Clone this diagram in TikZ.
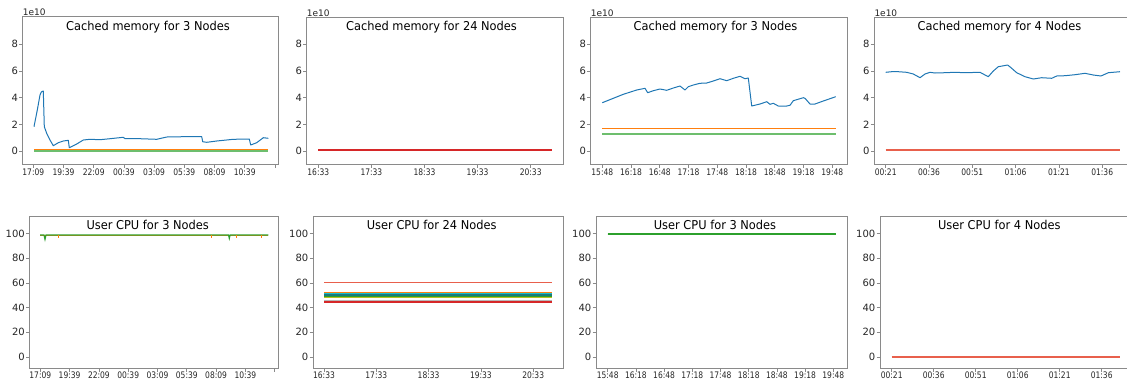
\documentclass[tikz,border=0pt]{standalone}
\usepackage{fontspec}
\setmainfont{DejaVu Sans}
\definecolor{tbl}{HTML}{1F77B4}
\definecolor{tor}{HTML}{FF7F0E}
\definecolor{tgr}{HTML}{2CA02C}
\definecolor{lgr}{HTML}{6DBE6D}
\definecolor{trd}{HTML}{D62728}
\definecolor{slm}{HTML}{E8604C}
\definecolor{tcy}{HTML}{17BECF}
\definecolor{tol}{HTML}{BCBD22}
\definecolor{tgy}{HTML}{B8B8B8}
\definecolor{dtl}{HTML}{1B7A7A}
\definecolor{frm}{HTML}{8A8A8A}
\definecolor{txt}{HTML}{262626}
\newcommand\ttlfnt{\fontsize{12.2}{14}\selectfont}
\newcommand\ytfnt{\fontsize{10}{11}\selectfont}
\newcommand\xtfnt{\fontsize{9}{10}\selectfont}
\tikzset{
  frame/.style={draw=frm, line width=0.9pt},
  tickmark/.style={draw=frm, line width=0.7pt},
  ylab/.style={anchor=east, inner sep=0pt, font=\ytfnt, text=txt},
  xlab/.style={anchor=base, inner sep=0pt, font=\xtfnt, text=txt},
  ttl/.style={anchor=base, inner sep=0pt, font=\ttlfnt, text=black},
  expo/.style={anchor=south west, inner sep=0pt, font=\xtfnt, text=txt},
  dataline/.style={line width=1pt, line join=round},
}
\newcommand\memy[2]{%
  \foreach \v in {0,2,4,6,8}{
    \draw[tickmark] ({#1-3.5},{151-\v*13.333}) -- ({#1},{151-\v*13.333});
    \node[ylab] (#2y\v) at ({#1-4.5},{151-\v*13.333}) {\v};
  }}
\newcommand\cpuy[2]{%
  \foreach \v in {0,20,40,60,80,100}{
    \draw[tickmark] ({#1-3.5},{357-\v*1.235}) -- ({#1},{357-\v*1.235});
    \node[ylab] (#2y\v) at ({#1-4.5},{357-\v*1.235}) {\v};
  }}
\newcommand\xaxis[6]{%
  \foreach \lab [count=\i from 0] in {#5}{
    \draw[tickmark] ({#1+\i*#2},#3) -- ({#1+\i*#2},{#3+3.5});
    \node[xlab] (#6x\i) at ({#1+\i*#2},#4) {\scalebox{0.84}[1]{\lab}};
  }}
\newcommand\ttltext[1]{\scalebox{0.935}[1]{#1}}
\begin{document}
\begin{tikzpicture}[x=1pt,y=-1pt]
\useasboundingbox (0,0) rectangle (1127,384);
\clip (0,0) rectangle (1127,384);

% ---------- Panel 1 ----------
\draw[tbl, dataline] (34,126.7) -- (37.3,110) -- (40,95) -- (41.3,92) -- (43.3,91) -- (44.3,126.7) -- (46.7,133.3) -- (50,140) -- (53.3,145.7) -- (58.3,142.7) -- (63.3,141) -- (68.3,140.3) -- (69.3,147.7) -- (76.7,144) -- (83.3,140) -- (90,139.3) -- (100,139.7) -- (110,138.7) -- (123.3,137.3) -- (125,138.7) -- (140,138.7) -- (156.7,139.3) -- (166.7,137) -- (183.3,136.7) -- (201.7,136.7) -- (202.7,141.7) -- (206.7,142.3) -- (216.7,141) -- (233.3,139.3) -- (249.3,139) -- (250.7,145) -- (256.7,142.7) -- (263.3,137.7) -- (268.3,138.3);
\draw[tor, line width=1pt] (34,149.3) -- (268.3,149.3);
\draw[lgr, line width=1.6pt] (34,150.9) -- (268.3,150.9);
\draw[frame] (22.7,16) rectangle (278.5,164);
\memy{22.7}{pa}
\xaxis{33.3}{30.2}{164}{175.7}{17:09,19:39,22:09,00:39,03:09,05:39,08:09,10:39}{pa}
\draw[tickmark] (274.9,164) -- (274.9,167.5);
\node[expo] (pae) at (22.7,15.5) {1e10};
\node[ttl] (pat) at (148,30.7) {\ttltext{Cached memory for 3 Nodes}};

% ---------- Panel 2 ----------
\draw[trd, line width=1.5pt] (318.3,150) -- (551.7,150);
\draw[frame] (306.7,17.3) rectangle (563.3,164);
\memy{306.7}{pb}
\xaxis{318.3}{53.1}{164}{175.7}{16:33,17:33,18:33,19:33,20:33}{pb}
\node[expo] (pbe) at (306.7,16.8) {1e10};
\node[ttl] (pbt) at (431.5,30.7) {\ttltext{Cached memory for 24 Nodes}};

% ---------- Panel 3 ----------
\draw[tbl, dataline] (602.3,102.7) -- (613.3,98.3) -- (623.3,94.3) -- (636.7,90) -- (645,88.3) -- (647.7,92.7) -- (653.3,90.7) -- (660,89) -- (666.7,90.3) -- (673.3,88) -- (680,86) -- (685,90) -- (688.3,86.7) -- (693.3,85) -- (700,83.3) -- (706.7,83) -- (713.3,81) -- (720,78.7) -- (726.7,80.7) -- (733.3,78.3) -- (740,76.3) -- (745,78.7) -- (748.3,78) -- (751.7,106) -- (760,104) -- (766.7,101.7) -- (770,104.3) -- (773.3,103.3) -- (778.3,106) -- (786.7,106) -- (790,105.3) -- (793.3,100.7) -- (803.3,97.7) -- (805,98.3) -- (810,104) -- (815,104) -- (823.3,101) -- (835.7,96.7);
\draw[tor, line width=1pt] (602.3,128) -- (835.7,128);
\draw[lgr, line width=1.8pt] (602.3,133.7) -- (835.7,133.7);
\draw[frame] (590.7,17.3) rectangle (847.3,164);
\memy{590.7}{pc}
\xaxis{602.3}{28.75}{164}{175.7}{15:48,16:18,16:48,17:18,17:48,18:18,18:48,19:18,19:48}{pc}
\node[expo] (pce) at (590.7,16.8) {1e10};
\node[ttl] (pct) at (715.5,30.7) {\ttltext{Cached memory for 3 Nodes}};

% ---------- Panel 4 ----------
\draw[tbl, dataline] (885.7,72.3) -- (891.7,71.7) -- (898.3,71.7) -- (906.7,72.3) -- (913.3,74) -- (920,77.7) -- (925,74) -- (930,72.3) -- (935,73) -- (945,72.7) -- (955,72.3) -- (965,72.7) -- (980,72.3) -- (988.3,76.7) -- (993.3,71) -- (998.3,66.7) -- (1007.7,65) -- (1011.7,68.3) -- (1016.7,72.7) -- (1025,76.7) -- (1033.3,79) -- (1041.7,77.7) -- (1051.7,78.3) -- (1056.7,76) -- (1065,75.7) -- (1075,74.7) -- (1085,73.3) -- (1093.3,75) -- (1101,76) -- (1108.3,72.7) -- (1120,71.7);
\draw[slm, line width=1.5pt] (885.7,150) -- (1120,150);
\draw[frame] (874.3,17.3) rectangle (1140,164);
\memy{874.3}{pd}
\xaxis{885.7}{43.3}{164}{175.7}{00:21,00:36,00:51,01:06,01:21,01:36}{pd}
\node[expo] (pde) at (874.3,16.8) {1e10};
\node[ttl] (pdt) at (999.5,30.7) {\ttltext{Cached memory for 4 Nodes}};

% ---------- Panel 5 ----------
\draw[tor, line width=1pt] (40,235.4) -- (268.3,235.4);
\draw[tgr, line width=1.1pt] (40,235) -- (44,235) -- (45,239.5) -- (46,235) -- (228.5,235) -- (229.3,238.5) -- (230.1,235) -- (268.3,235);
\foreach \sx [count=\k] in {58.3,211,236.7,261.7}
  \draw[tor, line width=0.9pt] (\sx,235) -- (\sx,237.8);
\draw[frame] (29.5,216.5) rectangle (278.5,368);
\cpuy{29.5}{pe}
\xaxis{40.3}{29.3}{368}{378.5}{17:09,19:39,22:09,00:39,03:09,05:39,08:09,10:39}{pe}
\draw[tickmark] (274.7,368) -- (274.7,371.5);
\node[ttl] (pet) at (147.7,229.3) {\ttltext{User CPU for 3 Nodes}};

% ---------- Panel 6 ----------
\draw[slm, line width=0.9pt] (324,282.3) -- (551.7,282.3);
\draw[tor, line width=1pt] (324,292.6) -- (551.7,292.6);
\draw[tcy, line width=1.6pt] (324,293.6) -- (551.7,293.6);
\draw[dtl, line width=1.8pt] (324,295.1) -- (551.7,295.1);
\draw[tgr, line width=1pt] (324,296.3) -- (551.7,296.3);
\draw[tol, line width=0.9pt] (324,297.6) -- (551.7,297.6);
\draw[tgy, line width=0.8pt] (324,300.2) -- (551.7,300.2);
\draw[trd, line width=1.6pt] (324,301.8) -- (551.7,301.8);
\draw[frame] (313,216) rectangle (563.3,368);
\cpuy{313}{pf}
\xaxis{324}{52.3}{368}{378.5}{16:33,17:33,18:33,19:33,20:33}{pf}
\node[ttl] (pft) at (431.7,229.3) {\ttltext{User CPU for 24 Nodes}};

% ---------- Panel 7 ----------
\draw[tbl, line width=1pt] (607.7,234.4) -- (835.7,234.4);
\draw[tor, line width=1pt] (607.7,234.2) -- (835.7,234.2);
\draw[tgr, line width=1.2pt] (607.7,234) -- (835.7,234);
\draw[frame] (596,216) rectangle (847.3,368);
\cpuy{596}{pg}
\xaxis{607.7}{28.2}{368}{378.5}{15:48,16:18,16:48,17:18,17:48,18:18,18:48,19:18,19:48}{pg}
\node[ttl] (pgt) at (715,229.3) {\ttltext{User CPU for 3 Nodes}};

% ---------- Panel 8 ----------
\draw[slm, line width=1.2pt] (891.7,357) -- (1120,357);
\draw[frame] (880,216) rectangle (1140,368);
\cpuy{880}{ph}
\xaxis{891.7}{42}{368}{378.5}{00:21,00:36,00:51,01:06,01:21,01:36}{ph}
\node[ttl] (pht) at (999.3,229.3) {\ttltext{User CPU for 4 Nodes}};
\end{tikzpicture}
\end{document}
